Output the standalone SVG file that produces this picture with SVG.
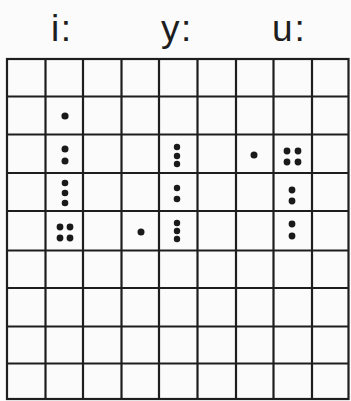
<svg xmlns="http://www.w3.org/2000/svg" width="351" height="401" viewBox="0 0 351 401">
<style>
.g{stroke:#1e1e1e;stroke-width:2.2;fill:none}
.d{fill:#1a1a1a}
.t{font-family:"Liberation Sans",Arial,sans-serif;font-size:37px;fill:#1e1e1e}
</style>
<rect width="351" height="401" fill="#fbfbfb"/>
<g id="labels">
<text class="t" x="51" y="41" letter-spacing="1.5">i:</text>
<text class="t" x="161" y="41" letter-spacing="1.5">y:</text>
<text class="t" x="272" y="41" letter-spacing="2">u:</text>
</g>
<g id="grid" class="g">
<rect x="7" y="59" width="341.5" height="340"/>
<path d="M45.5 59V399M83 59V399M121.5 59V399M159 59V399M197.5 59V399M236 59V399M273.5 59V399M312 59V399"/>
<path d="M7 96.5H348.5M7 134.5H348.5M7 173H348.5M7 211H348.5M7 250.5H348.5M7 288H348.5M7 326.5H348.5M7 363.5H348.5"/>
</g>
<g id="dots" class="d">
<circle cx="65" cy="116" r="3.6"/>
<circle cx="65" cy="149" r="3.5"/>
<circle cx="65" cy="161" r="3.5"/>
<circle cx="65" cy="183" r="3.3"/>
<circle cx="65" cy="193" r="3.3"/>
<circle cx="65" cy="203" r="3.3"/>
<circle cx="60" cy="227" r="3.4"/>
<circle cx="70" cy="227" r="3.4"/>
<circle cx="60" cy="238" r="3.4"/>
<circle cx="70" cy="238" r="3.4"/>
<circle cx="141" cy="232" r="3.5"/>
<circle cx="177" cy="147" r="3.2"/>
<circle cx="177" cy="156" r="3.2"/>
<circle cx="177" cy="164" r="3.2"/>
<circle cx="177" cy="188" r="3.2"/>
<circle cx="177" cy="199" r="3.3"/>
<circle cx="177" cy="223" r="3.2"/>
<circle cx="177" cy="231" r="3.2"/>
<circle cx="177" cy="239" r="3.2"/>
<circle cx="254" cy="155" r="3.5"/>
<circle cx="287" cy="151" r="3.4"/>
<circle cx="298" cy="151" r="3.4"/>
<circle cx="287" cy="162" r="3.4"/>
<circle cx="298" cy="162" r="3.4"/>
<circle cx="292" cy="190" r="3.4"/>
<circle cx="292" cy="201" r="3.4"/>
<circle cx="292" cy="224" r="3.4"/>
<circle cx="292" cy="236" r="3.4"/>
</g>
</svg>
